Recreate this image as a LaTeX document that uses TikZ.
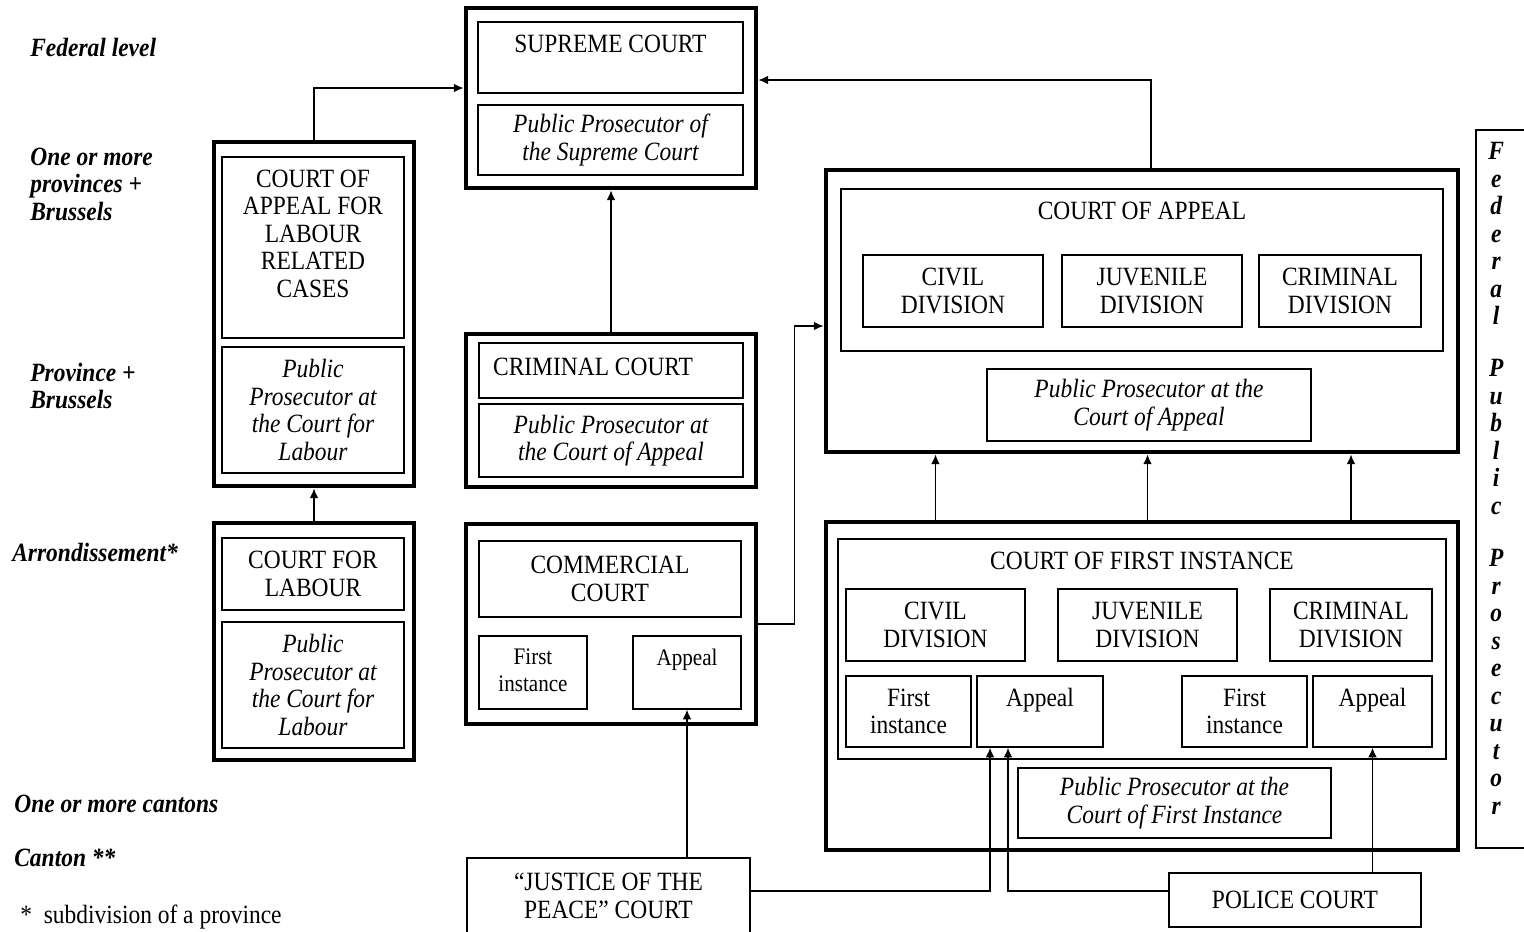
\documentclass[tikz,border=0pt]{standalone}
\usepackage{fontspec}
\setmainfont{Liberation Serif}[FakeStretch=0.89]
\usetikzlibrary{calc,arrows.meta}

\newcommand\fsz{\fontsize{15}{15.65}\selectfont}
\newcommand\fsm{\fontsize{13.5}{15.3}\selectfont}

\tikzset{
  every node/.append style={font=\fsz},
  frame/.style 2 args={draw, line width=2.8pt, inner sep=0pt,
    minimum width=#1*0.02cm, minimum height=#2*0.02cm},
  cell/.style 2 args={draw, line width=0.8pt, inner sep=0pt, align=center,
    minimum width=#1*0.02cm, minimum height=#2*0.02cm},
  head/.style={anchor=north, inner sep=0pt, yshift=-7.4pt, align=center},
  side/.style={anchor=west, inner sep=0pt, align=left, font=\fsz\bfseries\itshape},
  link/.style={line width=0.85pt, ->},
}

\begin{document}
\begin{tikzpicture}[x=0.02cm, y=-0.02cm, >={Latex[length=5.5pt,width=5pt]}]
    \path[use as bounding box, clip] (0,0) rectangle (1524,931);

    % Supreme court
    \node[frame={290}{180}] (sup) at (611,98) {};
    \node[cell={265}{71}, label={[head]north:SUPREME COURT}] (supC) at (610.5,57.5) {};
    \node[cell={265}{70}, font=\fsz\itshape] (supP) at (610.5,140) {Public Prosecutor of\\the Supreme Court};

    % Labour courts
    \node[frame={200}{344}] (lab) at (314,314) {};
    \node[cell={182}{181}, label={[head]north:{COURT OF\\APPEAL FOR\\LABOUR\\RELATED\\CASES}}] (labC) at (313,247.5) {};
    \node[cell={182}{126}, font=\fsz\itshape] (labP) at (313,410) {Public\\Prosecutor at\\the Court for\\Labour};

    \node[frame={200}{237}] (cfl) at (314,641.5) {};
    \node[cell={182}{72}, line width=1.3pt] (cflC) at (313,574) {COURT FOR\\LABOUR};
    \node[cell={182}{126}, font=\fsz\itshape] (cflP) at (313,685) {Public\\Prosecutor at\\the Court for\\Labour};

    % Criminal and commercial courts
    \node[frame={290}{153}] (crim) at (611,410.5) {};
    \node[cell={264}{55}, line width=1.3pt,
      label={[anchor=west, inner sep=0pt, xshift=8.5pt, yshift=2.3pt]west:CRIMINAL COURT}] (crimC) at (611,370.5) {};
    \node[cell={264}{73}, line width=1.3pt, font=\fsz\itshape] (crimP) at (611,440.5) {Public Prosecutor at\\the Court of Appeal};

    \node[frame={290}{200}] (com) at (611,624) {};
    \node[cell={262}{76}] (comC) at (610,579) {COMMERCIAL\\COURT};
    \node[cell={108}{73}, label={[head, font=\fsm]north:{First\\instance}}] (comF) at (533,672.5) {};
    \node[cell={108}{73}, label={[head, font=\fsm]north:Appeal}] (comA) at (687,672.5) {};

    % Court of appeal
    \node[frame={632}{282}] (ca) at (1142,311) {};
    \node[cell={602}{162}, label={[head]north:COURT OF APPEAL}] (caIn) at (1142,270) {};
    \node[cell={180}{72}] (caCiv) at (953,291) {CIVIL\\DIVISION};
    \node[cell={180}{72}] (caJuv) at (1152,291) {JUVENILE\\DIVISION};
    \node[cell={162}{72}] (caCri) at (1340,291) {CRIMINAL\\DIVISION};
    \node[cell={324}{72}, font=\fsz\itshape] (caP) at (1149,405) {Public Prosecutor at the\\Court of Appeal};

    % Court of first instance
    \node[frame={632}{328}] (cfi) at (1142,686) {};
    \node[cell={608}{220}, label={[head]north:COURT OF FIRST INSTANCE}] (cfiIn) at (1142,649) {};
    \node[cell={179}{72}] (cfiCiv) at (935.5,625) {CIVIL\\DIVISION};
    \node[cell={179}{72}] (cfiJuv) at (1147.5,625) {JUVENILE\\DIVISION};
    \node[cell={162}{72}] (cfiCri) at (1351,625) {CRIMINAL\\DIVISION};
    \node[cell={125}{71}] (cfiF1) at (908.5,711.5) {First\\instance};
    \node[cell={126}{71}, label={[head]north:Appeal}] (cfiA1) at (1040,711.5) {};
    \node[cell={125}{71}] (cfiF2) at (1244.5,711.5) {First\\instance};
    \node[cell={119}{71}, label={[head]north:Appeal}] (cfiA2) at (1372.5,711.5) {};
    \node[cell={313}{70}, font=\fsz\itshape] (cfiP) at (1174.5,803) {Public Prosecutor at the\\Court of First Instance};

    % Lower courts
    \node[cell={283}{76}] (jp) at (608.5,896) {“JUSTICE OF THE\\PEACE” COURT};
    \node[cell={252}{54}] (pol) at (1295,900) {POLICE COURT};

    % Federal public prosecutor
    \node[cell={80}{718}, label={[anchor=north, inner sep=0pt, xshift=11.9pt, yshift=-7.4pt,
      align=center, font=\fsz\bfseries\itshape]north west:{F\\e\\d\\e\\r\\a\\l\\[14pt]P\\u\\b\\l\\i\\c\\[14pt]P\\r\\o\\s\\e\\c\\u\\t\\o\\r}}] (fpp) at (1516,489) {};

    % Levels
    \node[side] (lFed) at (30,47) {Federal level};
    \node[side] (lProvs) at (30,184) {One or more\\provinces +\\Brussels};
    \node[side] (lProv) at (30,386) {Province +\\Brussels};
    \node[side] (lArr) at (12,552) {Arrondissement*};
    \node[side] (lCants) at (14,804) {One or more cantons};
    \node[side] (lCant) at (14,858) {Canton **};
    \node[anchor=west, inner sep=0pt] (note) at (20,917) {*\ \ subdivision of a province};

    % Appeals
    \draw[link] (lab.north) |- ($(sup.west)+(0,-10)$);
    \draw[link] ($(ca.north)+(9,0)$) |- ($(sup.east)+(0,-18)$);
    \draw[link] (crim.north) -- (sup.south);
    \draw[link] (cfl.north) -- (lab.south);
    \draw[link] (com.east) -- ++(36,0) |- ($(ca.west)+(0,15)$);
    \foreach \d in {Civ,Juv,Cri}
        \draw[link] (cfi.north -| cfi\d) -- (ca.south -| cfi\d);
    \draw[link] (jp.north -| comA) -- (comA.south);
    \draw[link] ($(jp.east)+(0,-5)$) -| ($(cfiA1.south)+(-50,0)$);
    \draw[link] ($(pol.west)+(0,-9)$) -| ($(cfiA1.south)+(-32,0)$);
    \draw[link] (pol.north -| cfiA2) -- (cfiA2.south);
\end{tikzpicture}
\end{document}
